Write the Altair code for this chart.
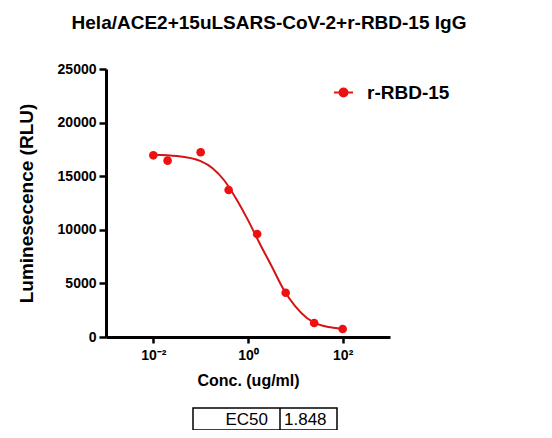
import altair as alt
import pandas as pd

# Measured points
conc = [0.01, 0.02, 0.1, 0.39, 1.56, 6.25, 25, 100]
rlu = [16950, 16450, 17230, 13710, 9610, 4130, 1310, 750]

# Fitted curve
curve_conc = [0.01, 0.0316, 0.1, 0.178, 0.316, 0.562, 1.0, 1.778, 3.162,
              5.623, 10, 17.78, 31.62, 56.23, 100]
curve_rlu = [17000, 16880, 16400, 15750, 14600, 12900, 10900, 8700, 6600,
             4450, 2850, 1750, 1150, 900, 740]

series_name = "r-RBD-15"
table_label = ["EC50"]
table_value = ["1.848"]

x_ticks = [0.01, 1, 100]
y_ticks = [0, 5000, 10000, 15000, 20000, 25000]

pts = pd.DataFrame({"conc": conc, "rlu": rlu, "series": [series_name] * len(conc)})
crv = pd.DataFrame({"conc": curve_conc, "rlu": curve_rlu})
tbl = pd.DataFrame({"label": table_label, "value": table_value})

FONT = "Liberation Sans"
RED_PT = "#ee1111"
RED_LN = "#d41414"

x_enc = alt.X(
    "conc:Q",
    scale=alt.Scale(type="log", domain=[0.001, 1000], nice=False),
    axis=alt.Axis(
        title="Conc. (ug/ml)",
        values=x_ticks,
        labelExpr="datum.value < 0.1 ? '10⁻²' : (datum.value < 10 ? '10⁰' : '10²')",
        labelFontSize=14,
        labelPadding=5,
        tickSize=6,
        titleFontSize=16,
        titlePadding=10,
    ),
)
y_enc = alt.Y(
    "rlu:Q",
    scale=alt.Scale(domain=[0, 25000], nice=False),
    axis=alt.Axis(
        title="Luminesecence (RLU)",
        values=y_ticks,
        format="d",
        labelFontSize=14,
        labelPadding=3,
        tickSize=7,
        titleFontSize=19,
        titlePadding=21,
    ),
)

line = alt.Chart(crv).mark_line(color=RED_LN, strokeWidth=2, interpolate="monotone").encode(
    x=x_enc, y=y_enc
)

sym_path = "M-1,0H1M-0.42,0A0.42,0.42,0,1,1,0.42,0A0.42,0.42,0,1,1,-0.42,0Z"

points = alt.Chart(pts).mark_point(filled=True, size=75, opacity=1).encode(
    x=x_enc,
    y=y_enc,
    color=alt.Color(
        "series:N",
        scale=alt.Scale(domain=[series_name], range=[RED_PT]),
        legend=alt.Legend(
            title=None,
            orient="none",
            legendX=227,
            legendY=13,
            padding=0,
            symbolType=sym_path,
            symbolSize=361,
            symbolStrokeColor=RED_PT,
            symbolStrokeWidth=2,
            labelFont=FONT,
            labelFontSize=19,
            labelFontWeight="bold",
            labelColor="black",
            labelOffset=13,
        ),
    ),
)

box = alt.Chart(tbl).mark_rect(fillOpacity=0, stroke="black", strokeWidth=1.5).encode(
    x=alt.value(87), x2=alt.value(231), y=alt.value(339), y2=alt.value(361)
)
divider = alt.Chart(tbl).mark_rule(color="black", strokeWidth=1.5).encode(
    x=alt.value(174), y=alt.value(339), y2=alt.value(361)
)
lab_text = alt.Chart(tbl).mark_text(
    align="right", baseline="middle", font=FONT, fontSize=17, color="black"
).encode(x=alt.value(162), y=alt.value(351), text="label:N")
val_text = alt.Chart(tbl).mark_text(
    align="left", baseline="middle", font=FONT, fontSize=17, color="black"
).encode(x=alt.value(178), y=alt.value(351), text="value:N")

chart = (
    alt.layer(line, points, box, divider, lab_text, val_text)
    .properties(
        width=284,
        height=268,
        title=alt.Title(
            "Hela/ACE2+15uLSARS-CoV-2+r-RBD-15 IgG",
            font=FONT,
            fontSize=19,
            fontWeight="bold",
            color="black",
            anchor="middle",
            dx=21,
            offset=29,
        ),
        autosize=alt.AutoSizeParams(type="none"),
        padding={"left": 98, "top": 61, "right": 154, "bottom": 93},
    )
    .configure_view(stroke=None)
    .configure_axis(
        grid=False,
        domainColor="black",
        domainWidth=3,
        tickColor="black",
        tickWidth=2.5,
        labelFont=FONT,
        labelFontWeight="bold",
        labelColor="black",
        titleFont=FONT,
        titleFontWeight="bold",
        titleColor="black",
    )
)

chart.save("out.html", embed_options={"renderer": "svg", "actions": False})
